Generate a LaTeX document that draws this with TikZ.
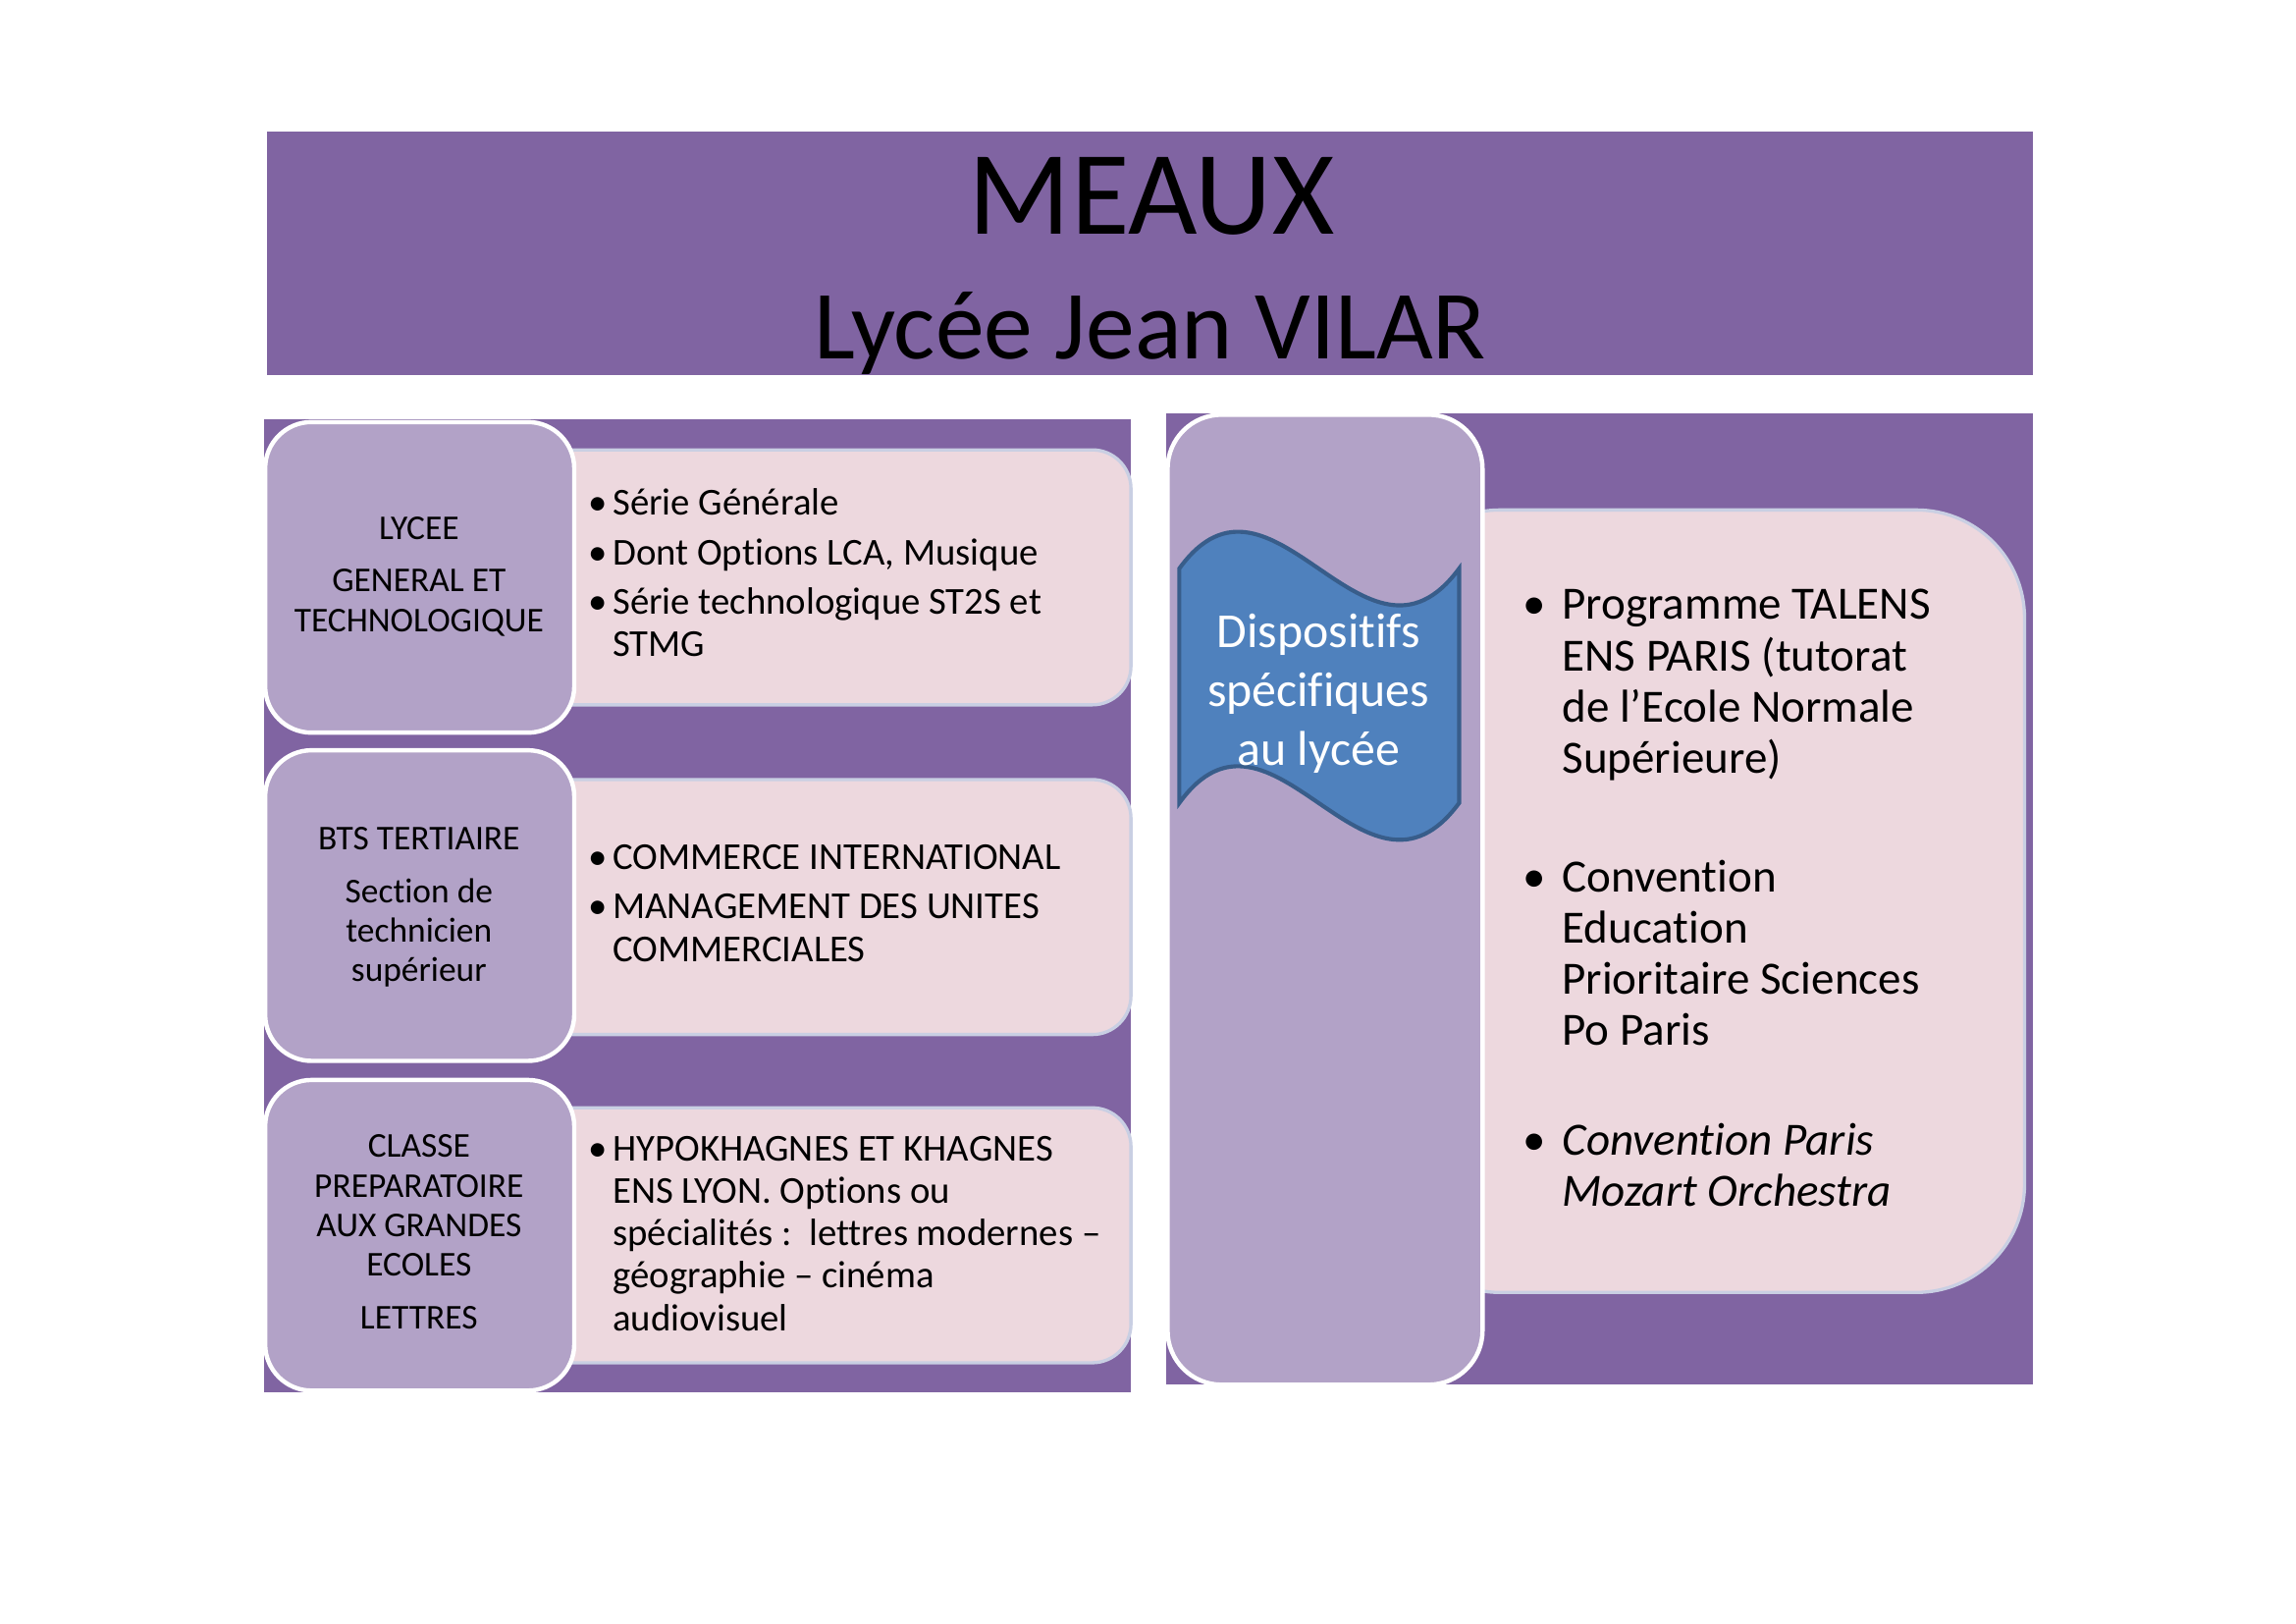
\documentclass[tikz,border=0pt]{standalone}
\usepackage{fontspec}
\setmainfont{Carlito}[Ligatures=NoCommon]
\definecolor{fondviolet}{HTML}{8064A2}
\definecolor{mauve}{HTML}{B2A2C7}
\definecolor{rose}{HTML}{EDD8DE}
\definecolor{bordrose}{HTML}{C9CFE3}
\definecolor{bleuflag}{HTML}{4F81BD}
\definecolor{bleubord}{HTML}{385D8A}
\newcommand{\puce}{\llap{\textbullet\hspace{2pt}}}
\newcommand{\grpuce}{\llap{\textbullet\hspace{6pt}}}

\begin{document}
\begin{tikzpicture}[x=0.01895cm,y=-0.01895cm,
    labelbox/.style={fill=mauve,draw=white,line width=1.6pt,rounded corners=0.6cm},
    pinkbox/.style={fill=rose,draw=bordrose,line width=1.2pt,rounded corners=0.5cm},
    lab/.style={align=center,anchor=base,inner sep=0pt,font=\fontsize{12.8}{14.6}\selectfont},
    puces/.style={align=left,anchor=base west,inner sep=0pt,font=\fontsize{14}{15.6}\selectfont}]

\useasboundingbox[fill=white] (0,0) rectangle (1567.3,1108.2);

% bandeau du titre
\fill[fondviolet] (182,90) rectangle (1388,256);
\node[anchor=base,inner sep=0pt,font=\fontsize{44}{46}\selectfont] (ville) at (786,160) {MEAUX};
\node[anchor=base,inner sep=0pt,font=\fontsize{36}{38}\selectfont] (lycee) at (785,245) {Lycée Jean VILAR};

% formations
\fill[fondviolet] (180,286) rectangle (772,950);
\foreach \y in {307,532,756}
  \draw[pinkbox] (330,\y) rectangle (772,\y+174);
\foreach \y in {288,512,737}
  \draw[labelbox] (181,\y) rectangle (392,\y+212);

\node[lab] (lgt) at (286,431) {LYCEE\\[4.8pt]GENERAL ET\\TECHNOLOGIQUE};
\node[lab] (bts) at (286,670) {BTS TERTIAIRE\\[4.8pt]Section de\\technicien\\supérieur};
\node[lab] (cpge) at (286,907) {CLASSE\\PREPARATOIRE\\AUX GRANDES\\ECOLES\\[4.8pt]LETTRES};

\node[puces] (lgtliste) at (418,448) {\puce Série Générale\\[2.6pt]
  \puce Dont Options LCA, Musique\\[2.6pt]
  \puce Série technologique ST2S et\\STMG};
\node[puces] (btsliste) at (418,656) {\puce COMMERCE INTERNATIONAL\\[2.6pt]
  \puce MANAGEMENT DES UNITES\\COMMERCIALES};
\node[puces] (cpgeliste) at (418,908) {\puce HYPOKHAGNES ET KHAGNES\\ENS LYON. Options ou\\
  spécialités :\ \ lettres modernes –\\géographie – cinéma\\audiovisuel};

% dispositifs
\fill[fondviolet] (796,282) rectangle (1388,945);
\draw[pinkbox,rounded corners=1.4cm] (950,348) rectangle (1382,882);
\draw[labelbox,rounded corners=0.7cm] (797,283) rectangle (1012,945);

\draw[fill=bleuflag,draw=bleubord,line width=1.5pt]
  (805,388) .. controls (868,301) and (932,475) .. (996,388)
  -- (996,548) .. controls (932,635) and (868,461) .. (805,548) -- cycle;
\node[align=center,anchor=base,inner sep=0pt,text=white,font=\fontsize{18}{21.6}\selectfont] (dispo) at (900,522)
  {Dispositifs\\spécifiques\\au lycée};

\node[align=left,anchor=base west,inner sep=0pt,font=\fontsize{17}{18.8}\selectfont] (dispoliste) at (1066,823)
  {\grpuce Programme TALENS\\ENS PARIS (tutorat\\de l’Ecole Normale\\Supérieure)\\[25pt]
   \grpuce Convention\\Education\\Prioritaire Sciences\\Po Paris\\[21.6pt]
   \grpuce\itshape Convention Paris\\\itshape Mozart Orchestra};
\end{tikzpicture}
\end{document}
